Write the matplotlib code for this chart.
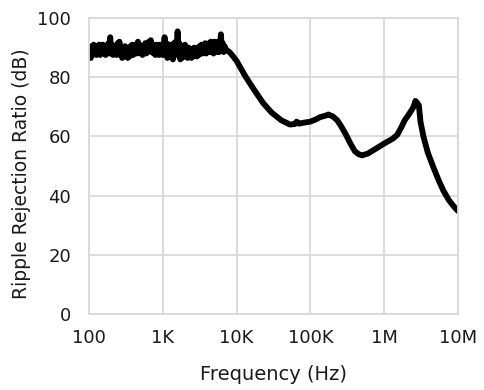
import matplotlib
matplotlib.use("Agg")
import matplotlib.pyplot as plt

# frequency sweep mantissas (80 points per decade) for the noisy low-frequency region
mantissa = [1.000, 1.029, 1.059, 1.090, 1.122, 1.155, 1.189, 1.223, 1.259, 1.296,
            1.334, 1.372, 1.413, 1.454, 1.496, 1.540, 1.585, 1.631, 1.679, 1.728,
            1.778, 1.830, 1.884, 1.939, 1.995, 2.054, 2.113, 2.175, 2.239, 2.304,
            2.371, 2.441, 2.512, 2.585, 2.661, 2.738, 2.818, 2.901, 2.985, 3.073,
            3.162, 3.255, 3.350, 3.447, 3.548, 3.652, 3.758, 3.868, 3.981, 4.097,
            4.217, 4.340, 4.467, 4.597, 4.732, 4.870, 5.012, 5.158, 5.309, 5.464,
            5.623, 5.788, 5.957, 6.131, 6.310, 6.494, 6.683, 6.879, 7.079, 7.286,
            7.499, 7.718, 7.943, 8.175, 8.414, 8.660, 8.913, 9.173, 9.441, 9.716]

# ripple rejection (dB), 100 Hz .. 972 Hz
rr_dec1 = [87, 90, 86.5, 90.5, 87.5, 91, 88, 90, 87.5, 90.5,
           88, 91, 87.5, 90, 88.5, 91, 88, 90.5, 87.5, 90,
           88.5, 91.5, 88, 93.5, 89, 91, 87.5, 90.5, 88, 90,
           87.5, 91.5, 88, 92, 87.5, 90, 86.5, 89.5, 87, 90.5,
           87.5, 90, 86.5, 89.5, 87, 90.5, 88, 91, 87.5, 90.5,
           88.5, 91, 88, 92, 88.5, 91, 88, 90.5, 87.5, 90,
           88.5, 91.5, 88, 90.5, 88.5, 92, 89, 92.5, 88.5, 91,
           88, 90.5, 87.5, 91, 88.5, 90, 87.5, 91, 88, 90]
# ripple rejection (dB), 1 kHz .. 7.08 kHz
rr_dec2 = [87.5, 91, 93.5, 88, 91.5, 86.5, 90.5, 87, 91, 88,
           90.5, 86, 91.5, 88, 92, 87.5, 95.5, 88, 91.5, 86,
           90.5, 86.5, 90, 87, 91, 87.5, 89.5, 86.5, 90, 87,
           89, 86.5, 89.5, 87, 90, 87.5, 89.5, 87, 90, 87.5,
           90.5, 88, 91, 88, 90.5, 88.5, 91.5, 88, 91, 88.5,
           91.5, 88.5, 92, 89, 91, 88, 92, 89, 91.5, 88.5,
           92, 88.5, 91, 94.5, 89, 91.5, 88.5, 90.5, 89.5]

# smooth higher-frequency region
freq_high = [7500, 8000, 9000, 10e3, 13e3, 17e3, 23e3, 30e3, 40e3, 53e3, 62e3, 65e3,
             70e3, 80e3, 100e3, 120e3, 135e3, 160e3, 175e3, 200e3, 230e3, 260e3,
             300e3, 350e3, 400e3, 450e3, 500e3, 600e3, 700e3, 850e3, 1e6, 1.3e6,
             1.5e6, 1.7e6, 1.9e6, 2.1e6, 2.3e6, 2.5e6, 2.65e6, 2.8e6, 2.95e6, 3.1e6,
             3.4e6, 3.9e6, 4.6e6, 5.4e6, 6.3e6, 7.5e6, 8.8e6, 10e6]
rr_high = [89, 88.5, 87, 85.5, 80.5, 76, 71.2, 68, 65.5, 64, 64.2, 65,
           64.3, 64.6, 65, 65.8, 66.5, 67, 67.4, 66.8, 65.5, 63.5,
           60.8, 57.5, 55, 54, 53.6, 54.2, 55.2, 56.5, 57.6, 59.2,
           60.5, 63, 65.5, 67, 68.5, 70, 72, 71.3, 70.5, 65,
           60, 54.5, 49.8, 45.5, 41.8, 38.5, 36.3, 34.8]

xticks = [100, 1e3, 1e4, 1e5, 1e6, 1e7]
xticklabels = ["100", "1K", "10K", "100K", "1M", "10M"]
yticks = [0, 20, 40, 60, 80, 100]

freq = ([100 * m for m in mantissa] +
        [1000 * m for m in mantissa[:len(rr_dec2)]] + freq_high)
rr = rr_dec1 + rr_dec2 + rr_high

plt.rcParams['font.family'] = ['DejaVu Sans']
fig = plt.figure(figsize=(4.84, 3.90), dpi=100)
ax = fig.add_axes([89/484, 1 - 314/390, (458-89)/484, (314-18)/390])

ax.plot(freq, rr, color="black", lw=4.2,
        solid_joinstyle="round", solid_capstyle="round")
ax.set_xscale("log")
ax.set_xlim(100, 1e7)
ax.set_ylim(0, 100)
ax.set_xticks(xticks)
ax.set_xticklabels(xticklabels)
ax.minorticks_off()
ax.set_yticks(yticks)
ax.grid(True, color="#d9d9d9", lw=1.3)
ax.set_axisbelow(True)
for s in ax.spines.values():
    s.set_color("#d9d9d9")
    s.set_linewidth(1.3)
ax.tick_params(length=0, labelsize=13, colors="#1a1a1a")
ax.tick_params(axis="x", pad=11)
ax.tick_params(axis="y", pad=13)
ax.set_xlabel("Frequency (Hz)", fontsize=14, color="#1a1a1a", labelpad=13)
ax.set_ylabel("Ripple Rejection Ratio (dB)", fontsize=13.5, color="#1a1a1a")
ax.yaxis.set_label_coords(-0.157, 0.475)

fig.savefig("out.png", dpi=100)
